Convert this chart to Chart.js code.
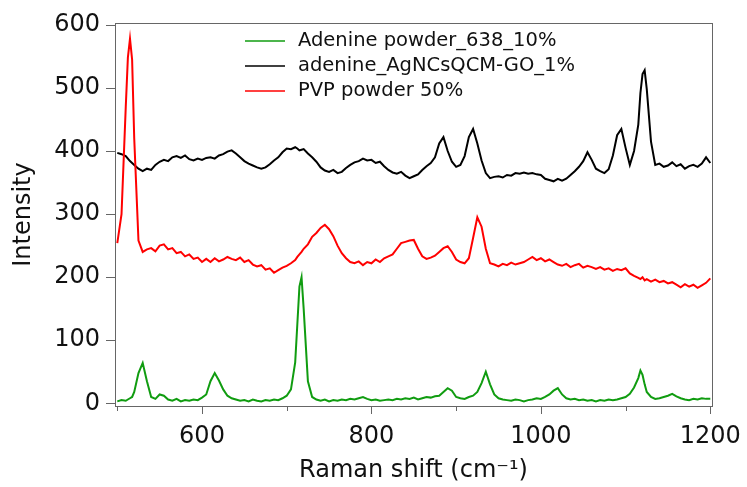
<!DOCTYPE html>
<html>
<head>
<meta charset="utf-8">
<script src="https://cdn.jsdelivr.net/npm/chart.js"></script>
<style>
  html, body { margin: 0; padding: 0; background: #fff; }
</style>
</head>
<body>
<canvas id="raman" width="747" height="487"></canvas>
<script>
// Raman shift (cm-1) sample positions, extra points around the sharp peaks
const ramanShift = [
  500, 505, 510, 512.5, 515, 517.5, 520, 525, 530, 535, 540, 545, 550, 555, 560, 565, 570, 575, 580, 585, 590, 595,
  600, 605, 610, 615, 620, 625, 630, 635, 640, 645, 650, 655, 660, 665, 670, 675, 680, 685, 690, 695,
  700, 705, 710, 712.5, 715, 717.5, 720, 725, 730, 735, 740, 745, 750, 755, 760, 765, 770, 775, 780, 785, 790, 795,
  800, 805, 810, 815, 820, 825, 830, 835, 840, 845, 850, 855, 860, 865, 870, 875, 880, 885, 890, 895,
  900, 905, 910, 915, 920, 925, 930, 935, 940, 945, 950, 955, 960, 965, 970, 975, 980, 985, 990, 995,
  1000, 1005, 1010, 1015, 1020, 1025, 1030, 1035, 1040, 1045, 1050, 1055, 1060, 1065, 1070, 1075, 1080, 1085, 1090, 1095,
  1100, 1105, 1110, 1115, 1117.5, 1120, 1122.5, 1125, 1130, 1135, 1140, 1145, 1150, 1155, 1160, 1165, 1170, 1175, 1180, 1185, 1190, 1195, 1200
];

const adeninePowder = [
  3, 5, 4, 6, 8, 10, 18, 48, 64, 35, 10, 7, 14, 12, 6, 4, 7, 3, 5, 4, 6, 5,
  9, 14, 35, 48, 36, 22, 12, 8, 6, 4, 5, 3, 6, 4, 3, 5, 4, 6, 5, 8,
  12, 22, 65, 125, 185, 200, 150, 35, 10, 6, 4, 6, 3, 5, 4, 6, 5, 7, 6, 8, 10, 7,
  5, 6, 4, 5, 6, 5, 7, 6, 8, 7, 9, 6, 8, 10, 9, 11, 12, 18, 24, 20,
  10, 8, 7, 10, 12, 18, 32, 50, 30, 14, 8, 6, 5, 4, 6, 5, 3, 5, 6, 8,
  7, 10, 14, 20, 24, 14, 8, 6, 7, 5, 6, 4, 5, 3, 5, 4, 6, 5, 6, 8,
  10, 15, 25, 40, 52, 45, 30, 18, 10, 7, 8, 10, 12, 15, 11, 8, 6, 5, 7, 6, 8, 7, 7
];

const adenineAgNCs = [
  397, 395, 392, 388, 384, 381, 378, 372, 368, 372, 370, 378, 383, 386, 384, 390, 392, 389, 393, 387, 385, 388,
  386, 389, 390, 388, 393, 395, 399, 401, 396, 390, 384, 380, 377, 374, 372, 374, 379, 385, 390, 398,
  404, 403, 406, 404, 401, 402, 403, 396, 390, 383, 374, 369, 367, 370, 365, 367, 373, 378, 382, 384, 388, 385,
  386, 381, 383, 376, 370, 366, 364, 367, 361, 357, 360, 363, 370, 376, 381, 390, 412, 422, 400, 383,
  375, 378, 392, 422, 435, 412, 385, 365, 357, 359, 360, 358, 362, 361, 365, 364, 366, 364, 365, 363,
  362, 356, 354, 352, 356, 353, 356, 362, 368, 375, 384, 398, 386, 372, 368, 365, 371, 393, 425, 435,
  405, 378, 400, 442, 492, 522, 528, 498, 415, 378, 380, 375, 377, 382, 376, 379, 372, 376, 378, 375, 380, 390, 381
];

const pvpPowder = [
  254, 300, 470, 548, 578, 545, 420, 258, 240, 244, 246, 241, 250, 252, 244, 246, 238, 240, 233, 236, 229, 231,
  224, 229, 224, 230, 225, 228, 232, 229, 227, 231, 224, 227, 220, 217, 219, 212, 214, 207, 211, 215,
  218, 222, 227, 232, 236, 240, 245, 252, 264, 270, 278, 283, 276, 265, 250, 238, 230, 224, 222, 225, 219, 224,
  222, 228, 224, 230, 233, 236, 245, 254, 256, 258, 259, 245, 233, 229, 231, 234, 240, 246, 249, 240,
  228, 224, 222, 230, 262, 295, 280, 245, 222, 220, 217, 221, 219, 223, 220, 222, 224, 228, 232, 227,
  230, 225, 228, 224, 220, 218, 221, 216, 219, 221, 215, 218, 216, 213, 216, 212, 214, 210, 213, 211,
  214, 206, 202, 199, 197, 200, 195, 197, 193, 196, 192, 194, 190, 192, 188, 184, 189, 185, 188, 183, 187, 191, 198
];

const seriesNames = ['Adenine powder_638_10%', 'adenine_AgNCsQCM-GO_1%', 'PVP powder 50%'];
const seriesColors = ['#109c10', '#000000', '#ff0000'];

const yTickValues = [0, 100, 200, 300, 400, 500, 600];
const xTickValues = [500, 600, 700, 800, 900, 1000, 1100, 1200];
const xLabelValues = [600, 800, 1000, 1200];

Chart.defaults.font.family = "'DejaVu Sans', Verdana, sans-serif";
Chart.defaults.color = '#111';

function points(values) {
  return ramanShift.map((s, i) => ({ x: s, y: values[i] }));
}

// frame, outward ticks and the in-plot legend
const framePlugin = {
  id: 'frame',
  afterDraw(chart) {
    const { ctx, chartArea: a, scales: { x, y } } = chart;
    ctx.save();
    ctx.strokeStyle = '#666';
    ctx.lineWidth = 1;
    ctx.strokeRect(a.left + 0.5, a.top + 0.5, a.right - a.left, a.bottom - a.top);
    ctx.beginPath();
    yTickValues.forEach(v => {
      const py = Math.round(y.getPixelForValue(v)) + 0.5;
      ctx.moveTo(a.left - 9, py);
      ctx.lineTo(a.left, py);
    });
    xTickValues.forEach(v => {
      const px = Math.round(x.getPixelForValue(v)) + 0.5;
      const len = xLabelValues.includes(v) ? 8 : 5;
      ctx.moveTo(px, a.bottom);
      ctx.lineTo(px, a.bottom + len);
    });
    ctx.stroke();

    // legend
    ctx.font = "19.5px 'DejaVu Sans'";
    ctx.textBaseline = 'middle';
    ctx.fillStyle = '#111';
    chart.data.datasets.forEach((ds, i) => {
      const ly = 41 + i * 25;
      ctx.strokeStyle = ds.borderColor;
      ctx.lineWidth = 1.5;
      ctx.beginPath();
      ctx.moveTo(245, ly);
      ctx.lineTo(285, ly);
      ctx.stroke();
      ctx.fillText(ds.label, 298, ly);
    });
    ctx.restore();
  }
};

new Chart(document.getElementById('raman'), {
  type: 'line',
  data: {
    datasets: [
      { label: seriesNames[0], data: points(adeninePowder), borderColor: seriesColors[0], order: 3 },
      { label: seriesNames[1], data: points(adenineAgNCs), borderColor: seriesColors[1], order: 2 },
      { label: seriesNames[2], data: points(pvpPowder), borderColor: seriesColors[2], order: 1 }
    ]
  },
  options: {
    responsive: false,
    animation: false,
    events: [],
    datasets: {
      line: { borderWidth: 2, pointRadius: 0, tension: 0, fill: false }
    },
    layout: { padding: { top: 23, right: 35, left: 0, bottom: 0 } },
    plugins: {
      legend: { display: false },
      tooltip: { enabled: false }
    },
    scales: {
      x: {
        type: 'linear',
        min: 497.3,
        max: 1202,
        grid: { display: false, drawTicks: false },
        border: { display: false },
        afterBuildTicks: s => { s.ticks = xTickValues.map(v => ({ value: v })); },
        afterFit: s => { s.height = 81; s.paddingLeft = 0; s.paddingRight = 0; },
        ticks: {
          autoSkip: false,
          maxRotation: 0,
          padding: 16,
          font: { size: 24 },
          callback: v => xLabelValues.includes(v) ? String(v) : ''
        },
        title: {
          display: true,
          text: 'Raman shift (cm⁻¹)',
          font: { size: 24 },
          padding: { top: 0, bottom: 2 }
        }
      },
      y: {
        min: -4.3,
        max: 603,
        grid: { display: false, drawTicks: false },
        border: { display: false },
        afterBuildTicks: s => { s.ticks = yTickValues.map(v => ({ value: v })); },
        afterFit: s => { s.width = 115; s.paddingTop = 0; s.paddingBottom = 0; },
        ticks: {
          padding: 15,
          font: { size: 24 }
        },
        title: {
          display: true,
          text: 'Intensity',
          font: { size: 24 },
          padding: { top: 9, bottom: 0 }
        }
      }
    }
  },
  plugins: [framePlugin]
});
</script>
</body>
</html>
